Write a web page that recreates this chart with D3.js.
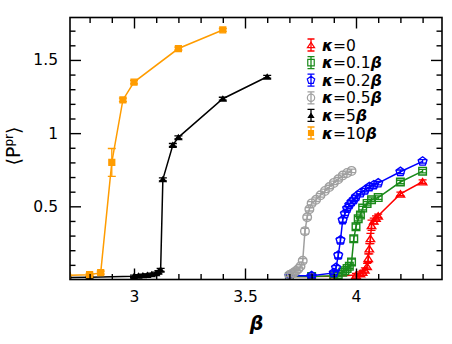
<!DOCTYPE html>
<html>
<head>
<meta charset="utf-8">
<script src="https://cdn.jsdelivr.net/npm/d3@7"></script>
<style>
  body { margin: 0; background: #fff; }
  svg { display: block; }
  text { font-family: "DejaVu Sans", sans-serif; fill: #000; }
</style>
</head>
<body>
<div id="chart"></div>
<script>
// kappa = 0
var betaK0 = [3.70, 3.80, 3.90, 4.00, 4.02, 4.03, 4.04, 4.05, 4.055, 4.06, 4.065, 4.07, 4.08, 4.09, 4.10, 4.20, 4.30];
var pK0    = [0.02, 0.02, 0.022, 0.03, 0.04, 0.05, 0.065, 0.09, 0.145, 0.21, 0.28, 0.37, 0.40, 0.42, 0.435, 0.585, 0.668];
var eK0    = [0.01, 0.01, 0.01, 0.012, 0.012, 0.012, 0.015, 0.02, 0.03, 0.035, 0.035, 0.035, 0.02, 0.015, 0.012, 0.012, 0.012];
// kappa = 0.1 beta
var betaK01 = [3.70, 3.80, 3.90, 3.92, 3.94, 3.95, 3.96, 3.97, 3.98, 3.99, 4.00, 4.01, 4.02, 4.03, 4.05, 4.07, 4.10, 4.20, 4.30];
var pK01    = [0.02, 0.02, 0.025, 0.035, 0.05, 0.06, 0.075, 0.09, 0.12, 0.278, 0.36, 0.415, 0.44, 0.488, 0.52, 0.545, 0.56, 0.666, 0.74];
var eK01    = [0.01, 0.01, 0.012, 0.012, 0.012, 0.012, 0.012, 0.015, 0.02, 0.02, 0.018, 0.015, 0.015, 0.012, 0.012, 0.012, 0.012, 0.012, 0.012];
// kappa = 0.2 beta
var betaK02 = [3.70, 3.80, 3.90, 3.91, 3.92, 3.93, 3.94, 3.95, 3.96, 3.97, 3.98, 3.99, 4.00, 4.02, 4.04, 4.06, 4.08, 4.10, 4.20, 4.30];
var pK02    = [0.025, 0.025, 0.045, 0.08, 0.165, 0.268, 0.406, 0.45, 0.485, 0.51, 0.53, 0.545, 0.565, 0.59, 0.61, 0.632, 0.645, 0.658, 0.736, 0.807];
var eK02    = [0.012, 0.012, 0.012, 0.015, 0.018, 0.018, 0.015, 0.012, 0.012, 0.012, 0.012, 0.012, 0.012, 0.012, 0.012, 0.012, 0.012, 0.012, 0.012, 0.012];
// kappa = 0.5 beta
var betaK05 = [3.70, 3.71, 3.72, 3.73, 3.74, 3.75, 3.76, 3.77, 3.78, 3.79, 3.80, 3.82, 3.84, 3.86, 3.88, 3.90, 3.92, 3.94, 3.96, 3.98];
var pK05    = [0.03, 0.037, 0.047, 0.058, 0.072, 0.09, 0.128, 0.33, 0.425, 0.48, 0.52, 0.545, 0.575, 0.605, 0.632, 0.66, 0.685, 0.71, 0.728, 0.742];
var eK05    = [0.012, 0.012, 0.012, 0.012, 0.012, 0.012, 0.015, 0.02, 0.015, 0.012, 0.012, 0.012, 0.012, 0.012, 0.012, 0.012, 0.012, 0.012, 0.012, 0.012];
// kappa = 5 beta
var betaK5 = [2.70, 2.80, 3.00, 3.02, 3.04, 3.06, 3.08, 3.10, 3.11, 3.12, 3.13, 3.175, 3.20, 3.40, 3.60];
var pK5    = [0.014, 0.016, 0.022, 0.025, 0.028, 0.031, 0.036, 0.043, 0.052, 0.066, 0.684, 0.919, 0.971, 1.235, 1.385];
var eK5    = [0.006, 0.006, 0.008, 0.008, 0.008, 0.008, 0.008, 0.008, 0.008, 0.01, 0.01, 0.01, 0.01, 0.01, 0.01];
// kappa = 10 beta
var betaK10 = [2.70, 2.80, 2.85, 2.90, 2.95, 3.00, 3.20, 3.40];
var pK10    = [0.028, 0.033, 0.047, 0.80, 1.227, 1.349, 1.578, 1.705];
var eK10    = [0.006, 0.008, 0.01, 0.095, 0.012, 0.012, 0.01, 0.01];

var legendLabels = ["0", "0.1", "0.2", "0.5", "5", "10"];
var xMajor = [3, 3.5, 4];
var yMajor = [0.5, 1, 1.5];
var xMinor = [2.8, 2.9, 3.1, 3.2, 3.3, 3.4, 3.6, 3.7, 3.8, 3.9, 4.1, 4.2, 4.3];
var yMinor = [0.1, 0.2, 0.3, 0.4, 0.6, 0.7, 0.8, 0.9, 1.1, 1.2, 1.3, 1.4, 1.6, 1.7];

function zip(b, p, e) {
    return b.map(function(d, i) { return {x: d, y: p[i], e: e[i]}; });
}

var series = [
    {label: legendLabels[0], color: "#ff0000", shape: "triangle", filled: false, r: 4.2, pts: zip(betaK0, pK0, eK0)},
    {label: legendLabels[1], color: "#1a8a1a", shape: "square",   filled: false, r: 3.8, pts: zip(betaK01, pK01, eK01)},
    {label: legendLabels[2], color: "#0000ff", shape: "pentagon", filled: false, r: 4.6, pts: zip(betaK02, pK02, eK02)},
    {label: legendLabels[3], color: "#a0a0a0", shape: "circle",   filled: false, r: 4.3, pts: zip(betaK05, pK05, eK05)},
    {label: legendLabels[4], color: "#000000", shape: "triangle", filled: true,  r: 3,   pts: zip(betaK5, pK5, eK5)},
    {label: legendLabels[5], color: "#ff9c00", shape: "square",   filled: true,  r: 2.9, pts: zip(betaK10, pK10, eK10)}
];

var width = 452, height = 344;
var mLeft = 70, mRight = 442, mTop = 17.5, mBottom = 279.5;

var svg = d3.select("#chart").append("svg")
    .attr("width", width)
    .attr("height", height);

var x = d3.scaleLinear().domain([2.7117, 4.3874]).range([mLeft, mRight]);
var y = d3.scaleLinear().domain([0, 1.79]).range([mBottom, mTop]);

// marker shapes
function shapePath(shape, r) {
    var pts = [], i, a;
    if (shape === "circle") {
        return "M" + (-r) + ",0A" + r + "," + r + " 0 1,0 " + r + ",0A" + r + "," + r + " 0 1,0 " + (-r) + ",0Z";
    }
    if (shape === "square") {
        return "M" + (-r) + "," + (-r) + "H" + r + "V" + r + "H" + (-r) + "Z";
    }
    var n = shape === "triangle" ? 3 : 5;
    for (i = 0; i < n; i++) {
        a = -Math.PI / 2 + i * 2 * Math.PI / n;
        pts.push([r * Math.cos(a) * (n === 3 ? 1.15 : 1), r * Math.sin(a) + (n === 3 ? r * 0.25 : 0)]);
    }
    return "M" + pts.join("L") + "Z";
}

svg.append("clipPath").attr("id", "plotclip")
    .append("rect")
    .attr("x", mLeft).attr("y", mTop)
    .attr("width", mRight - mLeft).attr("height", mBottom - mTop);

var plot = svg.append("g").attr("clip-path", "url(#plotclip)");

var line = d3.line()
    .x(function(d) { return x(d.x); })
    .y(function(d) { return y(d.y); });

series.forEach(function(s) {
    var g = plot.append("g");
    g.append("path")
        .datum(s.pts)
        .attr("d", line)
        .attr("fill", "none")
        .attr("stroke", s.color)
        .attr("stroke-width", 1.5);

    var pt = g.selectAll(".pt")
        .data(s.pts)
        .enter()
        .append("g")
        .attr("transform", function(d) { return "translate(" + x(d.x) + "," + y(d.y) + ")"; });

    pt.append("path")
        .attr("d", function(d) {
            var h = y(0) - y(d.e);
            return "M0," + (-h) + "V" + h + "M-4," + (-h) + "H4M-4," + h + "H4";
        })
        .attr("stroke", s.color)
        .attr("stroke-width", 1.3)
        .attr("fill", "none");

    pt.append("path")
        .attr("d", shapePath(s.shape, s.r))
        .attr("fill", s.filled ? s.color : "none")
        .attr("stroke", s.color)
        .attr("stroke-width", 1.4);
});

// frame and ticks
function ticks(axisFn, scale, vals, size, labels, pad) {
    var ax = axisFn(scale).tickValues(vals).tickSize(size).tickPadding(pad || 0);
    if (!labels) ax.tickFormat("");
    else ax.tickFormat(function(d) { return d3.format("")(d); });
    return ax;
}

var axes = [
    {fn: d3.axisBottom, s: x, t: "translate(0," + mBottom + ")", maj: xMajor, min: xMinor, lab: true, pad: 11},
    {fn: d3.axisTop,    s: x, t: "translate(0," + mTop + ")",    maj: xMajor, min: xMinor, lab: false},
    {fn: d3.axisLeft,   s: y, t: "translate(" + mLeft + ",0)",   maj: yMajor, min: yMinor, lab: true, pad: 12},
    {fn: d3.axisRight,  s: y, t: "translate(" + mRight + ",0)",  maj: yMajor, min: yMinor, lab: false}
];

axes.forEach(function(a) {
    var gMaj = svg.append("g").attr("transform", a.t)
        .call(ticks(a.fn, a.s, a.maj, -11, a.lab, a.pad));
    var gMin = svg.append("g").attr("transform", a.t)
        .call(ticks(a.fn, a.s, a.min, -5.5, false));
    [gMaj, gMin].forEach(function(g) {
        g.select(".domain").remove();
        g.selectAll("line").attr("stroke", "#000").attr("stroke-width", 1.4);
        g.selectAll("text").attr("font-size", 15.5).attr("fill", "#000")
            .style("font-family", "'DejaVu Sans', sans-serif");
    });
});

svg.append("rect")
    .attr("x", mLeft).attr("y", mTop)
    .attr("width", mRight - mLeft).attr("height", mBottom - mTop)
    .attr("fill", "none")
    .attr("stroke", "#000")
    .attr("stroke-width", 1.6);

// axis titles
svg.append("text")
    .attr("x", (mLeft + mRight) / 2 + 0.5)
    .attr("y", 330)
    .attr("text-anchor", "middle")
    .attr("font-size", 19)
    .attr("font-weight", "bold")
    .attr("font-style", "italic")
    .text("β");

var yl = svg.append("text")
    .attr("transform", "translate(20,146) rotate(-90)")
    .attr("text-anchor", "middle")
    .attr("font-size", 19);
yl.append("tspan").text("⟨P");
yl.append("tspan").attr("font-size", 12).attr("dy", -7).text("pr");
yl.append("tspan").attr("dy", 7).text("⟩");

// legend
var legend = svg.append("g");
series.forEach(function(s, i) {
    var ly = 45 + i * 17.6;
    var lg = legend.append("g").attr("transform", "translate(311," + ly + ")");
    lg.append("path")
        .attr("d", "M0,-6V6M-3.5,-6H3.5M-3.5,6H3.5")
        .attr("stroke", s.color)
        .attr("stroke-width", 1.3);
    lg.append("path")
        .attr("d", shapePath(s.shape, s.r * 0.85))
        .attr("fill", s.filled ? s.color : "none")
        .attr("stroke", s.color)
        .attr("stroke-width", 1.2);
    var t = legend.append("text")
        .attr("x", 322)
        .attr("y", ly + 5.5)
        .attr("font-size", 15.5);
    t.append("tspan").attr("font-weight", "bold").attr("font-style", "italic").text("κ");
    t.append("tspan").text("=" + s.label);
    if (s.label !== "0") {
        t.append("tspan").attr("font-weight", "bold").attr("font-style", "italic").text("β");
    }
});
</script>
</body>
</html>
